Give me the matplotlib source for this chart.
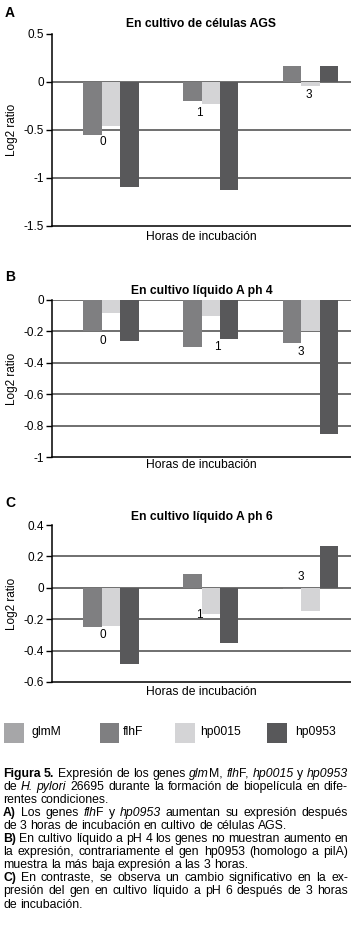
import re
import matplotlib
matplotlib.use("Agg")
import matplotlib.pyplot as plt
from matplotlib.patches import Rectangle

plt.rcParams["font.family"] = ["Liberation Sans", "DejaVu Sans"]

# data
hours = ["0", "1", "3"]
genes = ["glmM", "flhF", "hp0015", "hp0953"]
colors = ["#a6a6a8", "#7f7f81", "#d4d4d6", "#58585a"]

ags_glmM = [0.0, 0.0, 0.0]
ags_flhF = [-0.55, -0.20, 0.165]
ags_hp0015 = [-0.455, -0.23, -0.04]
ags_hp0953 = [-1.09, -1.12, 0.165]

ph4_glmM = [0.0, 0.0, 0.0]
ph4_flhF = [-0.195, -0.30, -0.275]
ph4_hp0015 = [-0.08, -0.10, -0.20]
ph4_hp0953 = [-0.26, -0.25, -0.855]

ph6_glmM = [0.0, 0.0, 0.0]
ph6_flhF = [-0.25, 0.085, -0.01]
ph6_hp0015 = [-0.245, -0.17, -0.148]
ph6_hp0953 = [-0.485, -0.35, 0.265]

ags_ticks = [0.5, 0, -0.5, -1, -1.5]
ph4_ticks = [0, -0.2, -0.4, -0.6, -0.8, -1]
ph6_ticks = [0.4, 0.2, 0, -0.2, -0.4, -0.6]

W, H = 351, 925
fig = plt.figure(figsize=(W / 100, H / 100), dpi=100)


def fx(px):
    return px / W


def fy(py):
    return 1 - py / H


# panel layout in pixels: top, bottom, title y, xlabel y, letter y, hour label spots
panels = [
    dict(letter="A", title="En cultivo de células AGS", top=34, bottom=226,
         title_y=24, xlab_y=237, letter_y=13, ticks=ags_ticks,
         series=[ags_glmM, ags_flhF, ags_hp0015, ags_hp0953],
         hour_pos=[(0.01, -0.63), (0.98, -0.32), (2.08, -0.135)]),
    dict(letter="B", title="En cultivo líquido A ph 4", top=300, bottom=457,
         title_y=291, xlab_y=465, letter_y=277, ticks=ph4_ticks,
         series=[ph4_glmM, ph4_flhF, ph4_hp0015, ph4_hp0953],
         hour_pos=[(0.01, -0.26), (1.16, -0.30), (2.0, -0.33)]),
    dict(letter="C", title="En cultivo líquido A ph 6", top=525, bottom=682,
         title_y=517, xlab_y=692, letter_y=503, ticks=ph6_ticks,
         series=[ph6_glmM, ph6_flhF, ph6_hp0015, ph6_hp0953],
         hour_pos=[(0.01, -0.30), (0.98, -0.175), (2.0, 0.07)]),
]

left_px = 52
bw = 0.185
offsets = [-1.5, -0.5, 0.5, 1.5]
x = list(range(len(hours)))

for p in panels:
    ax = fig.add_axes([fx(left_px), fy(p["bottom"]), fx(W - left_px),
                       (p["bottom"] - p["top"]) / H])
    for vals, off, c in zip(p["series"], offsets, colors):
        ax.bar([i + off * bw for i in x], vals, bw, color=c, linewidth=0, zorder=3)
    lo, hi = min(p["ticks"]), max(p["ticks"])
    ax.set_xlim(-0.5, 2.5)
    ax.set_ylim(lo, hi)
    ax.set_yticks(p["ticks"])
    ax.set_yticklabels([f"{t:g}" for t in p["ticks"]])
    for t in p["ticks"]:
        if lo < t < hi or t == 0:
            ax.axhline(t, color="#636363", lw=1.3, zorder=2)
    ax.set_xticks([])
    ax.spines["top"].set_visible(False)
    ax.spines["right"].set_visible(False)
    ax.spines["left"].set_linewidth(1.1)
    ax.spines["bottom"].set_linewidth(1.1)
    ax.tick_params(axis="y", direction="out", length=4, width=1, pad=2,
                   labelsize=8.5)
    for h, (hx, hy) in zip(hours, p["hour_pos"]):
        ax.text(hx, hy, h, ha="center", va="center", fontsize=8.5, zorder=4)

    cx = (left_px + W) / 2
    fig.text(fx(cx), fy(p["title_y"]), p["title"], ha="center", va="center",
             fontsize=8.7, fontweight="bold")
    fig.text(fx(cx), fy(p["xlab_y"]), "Horas de incubación", ha="center",
             va="center", fontsize=8.7)
    fig.text(fx(12), fy((p["top"] + p["bottom"]) / 2), "Log2 ratio",
             rotation=90, ha="center", va="center", fontsize=8.5)
    fig.text(fx(5), fy(p["letter_y"]), p["letter"], ha="left", va="center",
             fontsize=10, fontweight="bold")

# legend
leg_patch_x = [4, 100, 175, 267]
leg_text_x = [31, 123, 200, 295]
for g, c, px, tx in zip(genes, colors, leg_patch_x, leg_text_x):
    fig.add_artist(Rectangle((fx(px), fy(743)), 19.5 / W, 20 / H,
                             transform=fig.transFigure, color=c, lw=0))
    fig.text(fx(tx), fy(732), g, ha="left", va="center", fontsize=8.7)

# caption, justified like the original
caption = [
    ("**Figura 5.** Expresión de los genes *glm*M, *flh*F, *hp0015* y *hp0953*", True),
    ("de *H. pylori* 26695 durante la formación de biopelícula en dife-", True),
    ("rentes condiciones.", False),
    ("**A)** Los genes *flh*F y *hp0953* aumentan su expresión después", True),
    ("de 3 horas de incubación en cultivo de células AGS.", False),
    ("**B)** En cultivo líquido a pH 4 los genes no muestran aumento en", True),
    ("la expresión, contrariamente el gen hp0953 (homologo a pilA)", True),
    ("muestra la más baja expresión a las 3 horas.", False),
    ("**C)** En contraste, se observa un cambio significativo en la ex-", True),
    ("presión del gen en cultivo líquido a pH 6 después de 3 horas", True),
    ("de incubación.", False),
]

cap_size = 8.8
renderer = fig.canvas.get_renderer()


def style_kw(style):
    if style == "b":
        return dict(fontweight="bold")
    if style == "i":
        return dict(fontstyle="italic")
    return {}


def width_of(s, style):
    t = fig.text(0, 0, s, fontsize=cap_size, **style_kw(style))
    w = t.get_window_extent(renderer).width
    t.remove()
    return w


def to_words(line):
    words, cur = [], []
    for part in re.split(r"(\*\*[^*]+\*\*|\*[^*]+\*)", line):
        if not part:
            continue
        if part.startswith("**"):
            style, txt = "b", part[2:-2]
        elif part.startswith("*"):
            style, txt = "i", part[1:-1]
        else:
            style, txt = "n", part
        pieces = txt.split(" ")
        for k, piece in enumerate(pieces):
            if k > 0:
                if cur:
                    words.append(cur)
                cur = []
            if piece:
                cur.append((piece, style))
    if cur:
        words.append(cur)
    return words


space_w = width_of("a a", "n") - width_of("aa", "n")
cap_left, cap_right = 3, 348
base0, step = 777, 13.05

for n, (line, justify) in enumerate(caption):
    words = to_words(line)
    widths = [[width_of(s, st) for s, st in w] for w in words]
    total = sum(sum(ws) for ws in widths)
    if justify and len(words) > 1:
        gap = (cap_right - cap_left - total) / (len(words) - 1)
    else:
        gap = space_w
    xpos = cap_left
    ypos = base0 + n * step
    for w, ws in zip(words, widths):
        for (s, st), wd in zip(w, ws):
            fig.text(fx(xpos), fy(ypos), s, ha="left", va="baseline",
                     fontsize=cap_size, **style_kw(st))
            xpos += wd
        xpos += gap

fig.savefig("out.png", dpi=100)
